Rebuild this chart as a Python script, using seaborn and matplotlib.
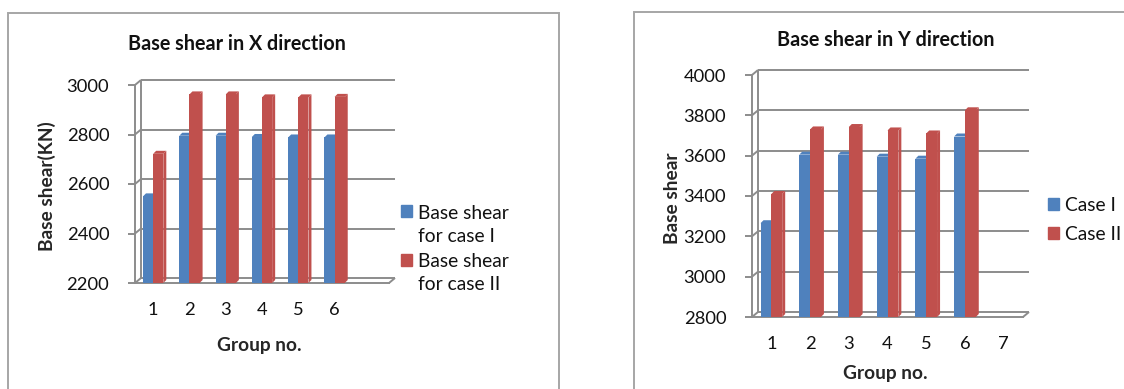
import matplotlib
matplotlib.use("Agg")
import matplotlib.pyplot as plt
import pandas as pd
import seaborn as sns
from matplotlib.patches import Rectangle, Polygon, Patch
from matplotlib.legend_handler import HandlerPatch

# ---- data ----
groups = ["1", "2", "3", "4", "5", "6", "7"]
shear_x_case1 = [2550, 2795, 2795, 2790, 2788, 2788]
shear_x_case2 = [2722, 2962, 2962, 2950, 2950, 2952]
shear_y_case1 = [3265, 3605, 3605, 3595, 3585, 3695]
shear_y_case2 = [3410, 3730, 3742, 3725, 3710, 3825]
x_dir_ticks = [2200, 2400, 2600, 2800, 3000]
y_dir_ticks = [2800, 3000, 3200, 3400, 3600, 3800, 4000]
x_dir_group_labels = ["1", "2", "3", "4", "5", "6", ""]
y_dir_group_labels = ["1", "2", "3", "4", "5", "6", "7"]
x_dir_legend = ["Base shear\nfor case I", "Base shear\nfor case II"]
y_dir_legend = ["Case I", "Case II"]

# ---- style ----
BLUE, RED = "#4F81BD", "#C0504D"
SIDE = {BLUE: "#3A6190", RED: "#8E3633"}
TOP = {BLUE: "#7099CC", RED: "#D0716E"}
GRID = "#8C8C8C"
FRAME = "#A6A6A6"
TICK_FS = 13.2
LABEL_FS = 13.8
TITLE_FS = 14.2
LEGEND_FS = 13.9

sns.set_theme(style="white")
plt.rcParams["font.family"] = ["Lato", "DejaVu Sans"]
plt.rcParams["text.color"] = "#111111"
plt.rcParams["xtick.color"] = "#111111"
plt.rcParams["ytick.color"] = "#111111"

W, H = 1124, 389
fig = plt.figure(figsize=(W / 100, H / 100), dpi=100)


def axes_px(left, top, right, bottom):
    return fig.add_axes([left / W, 1 - bottom / H, (right - left) / W, (bottom - top) / H])


def raised_square(lift):
    def make(legend, orig_handle, xdescent, ydescent, width, height, fontsize):
        return Rectangle((-xdescent, -ydescent + lift), width, height)
    return make


def panel(ax, case1, case2, legend_labels, ticks, group_labels, title, title_xy,
          ylabel, ylabel_x, xlabel_y, legend_xy, legend_spacing, lift):
    n = len(case1)
    df = pd.DataFrame({
        "group": groups[:n] * 2,
        "case": [legend_labels[0]] * n + [legend_labels[1]] * n,
        "shear": case1 + case2,
    })
    sns.barplot(data=df, x="group", y="shear", hue="case", order=groups,
                hue_order=legend_labels, palette=[BLUE, RED], saturation=1,
                width=0.56, errorbar=None, legend=False, linewidth=0,
                zorder=3, ax=ax)
    ax.set_xlim(-0.5, len(groups) - 0.5)
    ax.set_ylim(ticks[0], ticks[-1])
    x0, x1 = ax.get_xlim()
    y0, y1 = ax.get_ylim()

    ppx = ax.bbox.width / (x1 - x0)
    ppy = ax.bbox.height / (y1 - y0)
    wall_dx, wall_dy = 6 / ppx, 5 / ppy
    bar_dx, bar_dy = 3 / ppx, 3 / ppy

    # extruded side and top faces of each bar
    for p in list(ax.patches):
        color = matplotlib.colors.to_hex(p.get_facecolor())
        bx0 = p.get_x()
        bx1 = bx0 + p.get_width()
        top = p.get_y() + p.get_height()
        bot = max(p.get_y(), y0)
        side = Polygon([(bx1, bot), (bx1, top), (bx1 + bar_dx, top + bar_dy),
                        (bx1 + bar_dx, bot + bar_dy)], closed=True,
                       facecolor=SIDE.get(color, color), edgecolor="none", zorder=2)
        cap = Polygon([(bx0, top), (bx1, top), (bx1 + bar_dx, top + bar_dy),
                       (bx0 + bar_dx, top + bar_dy)], closed=True,
                      facecolor=TOP.get(color, color), edgecolor="none", zorder=2)
        ax.add_patch(side)
        ax.add_patch(cap)

    # back wall gridlines and the floor
    line_kw = dict(color=GRID, lw=1.4, clip_on=False, zorder=1, solid_capstyle="butt")
    for v in ticks:
        ax.plot([x0 + wall_dx, x1 + wall_dx], [v + wall_dy, v + wall_dy], **line_kw)
        ax.plot([x0, x0 + wall_dx], [v, v + wall_dy], **line_kw)
    ax.plot([x0 + wall_dx, x0 + wall_dx], [y0 + wall_dy, y1 + wall_dy], **line_kw)
    ax.plot([x1, x1 + wall_dx], [y0, y0 + wall_dy], **line_kw)

    for s in ("top", "right"):
        ax.spines[s].set_visible(False)
    for s in ("left", "bottom"):
        ax.spines[s].set_color(GRID)
        ax.spines[s].set_linewidth(1.4)
        ax.spines[s].set_zorder(1)

    ax.set_yticks(ticks)
    ax.set_yticklabels([str(t) for t in ticks])
    ax.set_xticks(range(len(groups)))
    ax.set_xticklabels(group_labels)
    ax.tick_params(axis="y", length=5, width=1.4, color=GRID, pad=13.5,
                   labelsize=TICK_FS, left=True)
    ax.tick_params(axis="x", length=0, pad=13.5, labelsize=TICK_FS)
    ax.grid(False)

    ax.set_xlabel("Group no.", fontsize=LABEL_FS, fontweight="bold")
    ax.set_ylabel(ylabel, fontsize=LABEL_FS, fontweight="bold")
    ax.xaxis.label.set_va("center")
    ax.yaxis.label.set_va("center")
    ax.xaxis.set_label_coords(*xlabel_y)
    ax.yaxis.set_label_coords(*ylabel_x)

    fig.text(title_xy[0] / W, 1 - title_xy[1] / H, title, ha="center", va="center",
             fontsize=TITLE_FS, fontweight="bold")

    handles = [Patch(color=BLUE), Patch(color=RED)]
    leg = ax.legend(handles, legend_labels, loc="upper left",
                    bbox_to_anchor=(legend_xy[0] / W, 1 - legend_xy[1] / H),
                    bbox_transform=fig.transFigure, frameon=False, borderpad=0,
                    borderaxespad=0, handlelength=0.57, handleheight=0.57,
                    handletextpad=0.32, labelspacing=legend_spacing, fontsize=LEGEND_FS,
                    handler_map={Patch: HandlerPatch(patch_func=raised_square(lift))})
    for t in leg.get_texts():
        t.set_linespacing(1.4)


# chart frames
fig.add_artist(Rectangle((8 / W, -0.1), (559 - 8) / W, 1.1 - 13 / H, transform=fig.transFigure,
                         fill=False, edgecolor=FRAME, lw=1.4))
fig.add_artist(Rectangle((634 / W, -0.1), 1.0, 1.1 - 12 / H, transform=fig.transFigure,
                         fill=False, edgecolor=FRAME, lw=1.4))

ax_x = axes_px(135, 85, 389, 283)
ax_y = axes_px(752, 75, 1023, 317)

panel(ax_x, shear_x_case1, shear_x_case2, x_dir_legend, x_dir_ticks, x_dir_group_labels,
      "Base shear in X direction", (237, 44), "Base shear(KN)",
      ((47 - 135) / 254, (283 - 186) / 198), ((259 - 135) / 254, (283 - 345) / 198),
      (401, 205), 0.45, 9.8)
panel(ax_y, shear_y_case1, shear_y_case2, y_dir_legend, y_dir_ticks, y_dir_group_labels,
      "Base shear in Y direction", (886, 40), "Base shear",
      ((672 - 752) / 271, (317 - 198) / 242), ((885 - 752) / 271, (317 - 374) / 242),
      (1048, 197), 0.62, 0)

fig.savefig("out.png", dpi=100, facecolor="white")
